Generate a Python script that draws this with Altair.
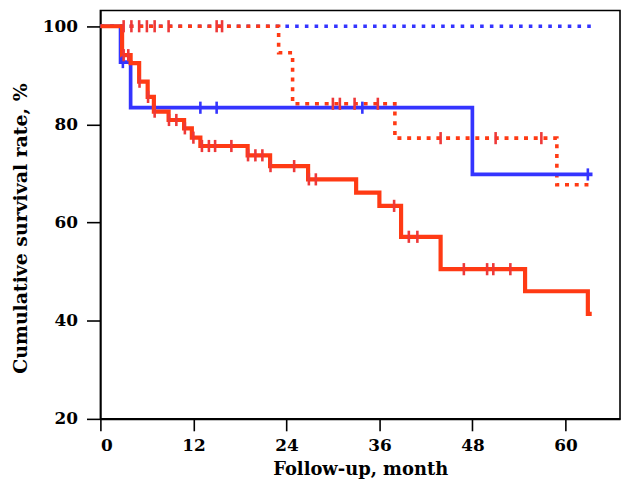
import altair as alt
import pandas as pd

# ---- data (months, survival %) ----
blue_solid_t = [0, 2.6, 3.9, 48.0, 63.5]
blue_solid_s = [100, 92.7, 83.4, 69.8, 69.8]
blue_solid_cens = [2.9, 12.9, 15.0, 33.8, 62.9]

blue_dot_t = [0, 63.3]
blue_dot_s = [100, 100]

red_dot_t = [0, 23.0, 24.8, 38.0, 58.9, 63.5]
red_dot_s = [100, 94.6, 84.2, 77.2, 67.7, 67.7]
red_dot_cens = [3.0, 4.0, 5.0, 6.0, 7.0, 8.8, 15.0, 15.7, 30.0, 30.9, 32.8, 35.8, 43.9, 51.0, 56.9]

red_solid_t = [0, 2.8, 3.9, 5.0, 6.1, 6.9, 8.8, 10.8, 11.8, 12.9, 19.0, 21.9, 26.8, 33.0, 36.0, 38.8, 43.9, 54.8, 62.9, 63.4]
red_solid_s = [100, 94.1, 92.5, 88.7, 85.6, 82.6, 80.9, 79.2, 77.3, 75.6, 73.7, 71.5, 68.8, 66.1, 63.4, 57.1, 50.5, 46.0, 41.4, 41.4]
red_solid_cens = [3.0, 3.6, 5.05, 6.15, 7.0, 8.85, 9.8, 10.9, 12.0, 13.1, 14.0, 14.8, 16.9, 19.05, 20.0, 20.9,
                  21.95, 25.0, 26.9, 27.8, 37.9, 39.8, 40.9, 46.9, 49.9, 50.7, 52.9]

x_ticks = [0, 12, 24, 36, 48, 60]
y_ticks = [20, 40, 60, 80, 100]

BLUE = "#3434ff"
RED = "#ff3a14"
RED_CROSS = "#ee3838"


def step_value(ts, ss, t):
    v = ss[0]
    for ti, si in zip(ts, ss):
        if ti <= t:
            v = si
    return v


def curve(name, ts, ss):
    return pd.DataFrame({"series": name, "t": ts, "s": ss})


def cens(name, ts, ss, ct):
    return pd.DataFrame({"series": name, "t": ct, "s": [step_value(ts, ss, c) for c in ct]})


FONT = "DejaVu Serif"
xs = alt.Scale(domain=[0, 67.05], nice=False, zero=False)
ys = alt.Scale(domain=[20, 103.2], nice=False, zero=False)

X = alt.X("t:Q", scale=xs, axis=alt.Axis(
    values=x_ticks, title="Follow-up, month", tickSize=12, labelPadding=7,
    titleY=51, titleBaseline="middle", titleFontSize=18))
Y = alt.Y("s:Q", scale=ys, axis=alt.Axis(
    values=y_ticks, title="Cumulative survival rate, %", tickSize=14, labelPadding=9,
    titleX=-80, titleY=219, titleAngle=-90, titleAlign="center", titleBaseline="middle",
    titleFontSize=19))


def line(df, color, width, dash=None):
    kw = dict(interpolate="step-after", color=color, strokeWidth=width, strokeCap="butt")
    if dash:
        kw["strokeDash"] = dash
    return alt.Chart(df).mark_line(**kw).encode(x=X, y=Y)


def marks(df, color):
    return alt.Chart(df).mark_point(shape="M0,-1L0,1", size=150, strokeWidth=2.6,
                                    filled=False, opacity=1, color=color).encode(x=X, y=Y)


layers = [
    line(curve("bd", blue_dot_t, blue_dot_s), BLUE, 3.6, [3.6, 6.2]),
    line(curve("rd", red_dot_t, red_dot_s), RED, 3.6, [4.0, 5.8]),
    line(curve("bs", blue_solid_t, blue_solid_s), BLUE, 3.7),
    line(curve("rs", red_solid_t, red_solid_s), RED, 4.2),
    marks(cens("rd", red_dot_t, red_dot_s, red_dot_cens), RED_CROSS),
    marks(cens("bs", blue_solid_t, blue_solid_s, blue_solid_cens), BLUE),
    marks(cens("rs", red_solid_t, red_solid_s, red_solid_cens), RED_CROSS),
]

chart = alt.layer(*layers).properties(
    width=523, height=411,
    autosize=alt.AutoSizeParams(type="none"),
    padding={"left": 93, "top": 1, "right": 2, "bottom": 64},
).configure_view(
    stroke="black", strokeWidth=1.6
).configure_axis(
    grid=False, domainColor="black", domainWidth=1.6, tickColor="black", tickWidth=1.6,
    labelFont=FONT, labelFontWeight="bold", labelFontSize=17, labelColor="black",
    titleFont=FONT, titleFontWeight="bold", titleColor="black",
)

chart.save("out.html", embed_options={"renderer": "svg", "actions": False})
